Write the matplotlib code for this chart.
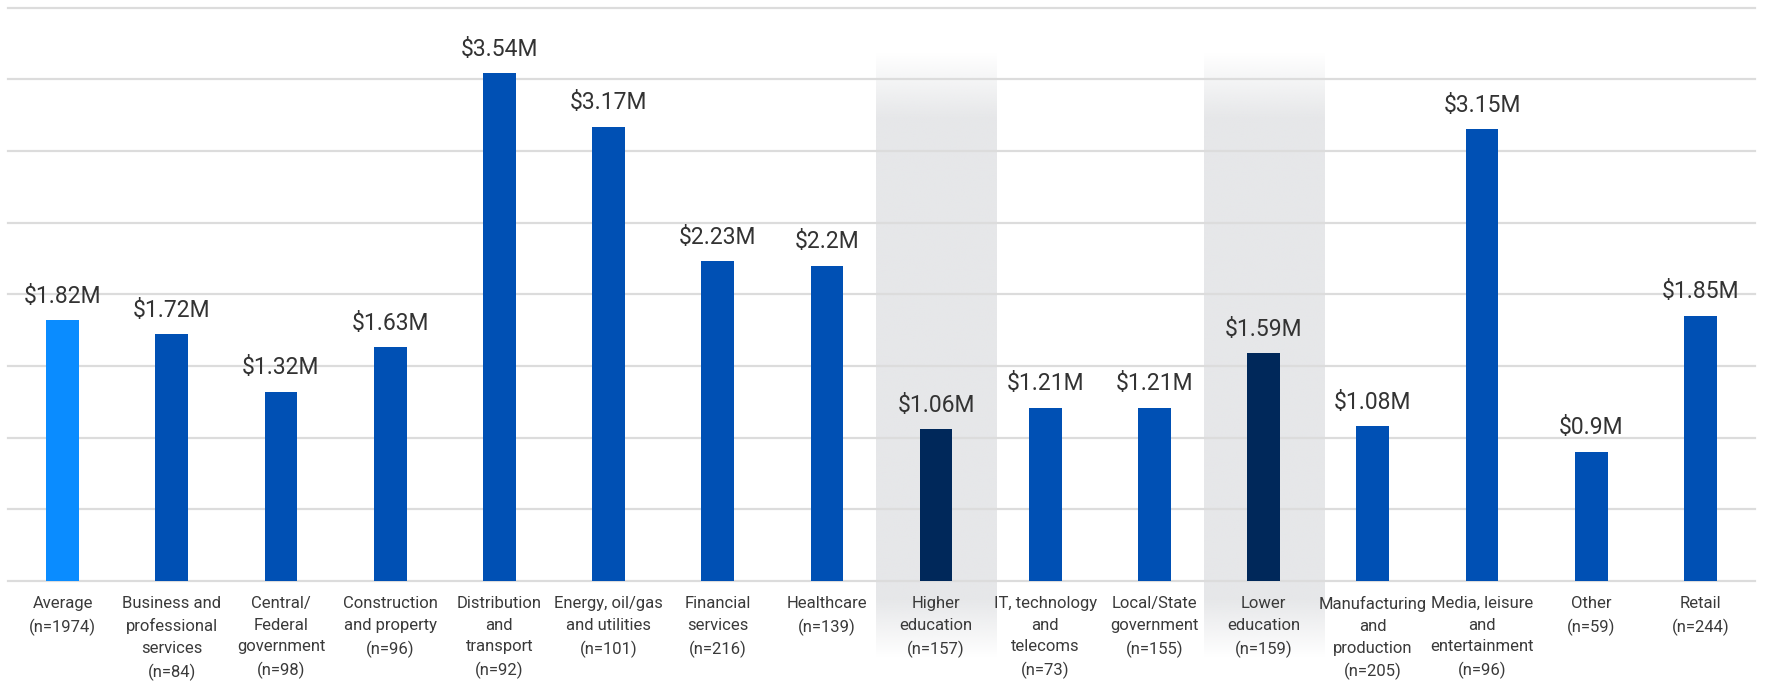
import numpy as np
import matplotlib.pyplot as plt

plt.rcParams['font.family'] = ['Roboto', 'DejaVu Sans']

# data
categories = ["Average", "Business and\nprofessional\nservices", "Central/\nFederal\ngovernment",
              "Construction\nand property", "Distribution\nand\ntransport",
              "Energy, oil/gas\nand utilities", "Financial\nservices", "Healthcare",
              "Higher\neducation", "IT, technology\nand\ntelecoms", "Local/State\ngovernment",
              "Lower\neducation", "Manufacturing\nand\nproduction",
              "Media, leisure\nand\nentertainment", "Other", "Retail"]
sample_n = [1974, 84, 98, 96, 92, 101, 216, 139, 157, 73, 155, 159, 205, 96, 59, 244]
cost_musd = [1.82, 1.72, 1.32, 1.63, 3.54, 3.17, 2.23, 2.2, 1.06, 1.21, 1.21, 1.59, 1.08, 3.15, 0.9, 1.85]
highlighted = ["Higher\neducation", "Lower\neducation"]

light_blue = "#0a8cff"
blue = "#0050b4"
navy = "#00285a"

colors = []
for i, c in enumerate(categories):
    if i == 0:
        colors.append(light_blue)
    elif c in highlighted:
        colors.append(navy)
    else:
        colors.append(blue)

fig = plt.figure(figsize=(17.66, 6.82), dpi=100)
ax = fig.add_axes([8 / 1766, 1 - 581 / 682, 1747 / 1766, (581 - 7.5) / 682])

x = np.arange(len(categories))

# gridlines
for g in np.arange(0, 4.01, 0.5):
    ax.axhline(g, color="#dcdcdc", lw=1.6, zorder=1, clip_on=False)

# grey gradient band behind highlighted columns
y_lo, y_hi = -0.54, 3.68
ys = np.linspace(y_hi, y_lo, 300)
alpha = np.ones_like(ys)
top_fade = ys > 3.22
alpha[top_fade] = (y_hi - ys[top_fade]) / (y_hi - 3.22)
bot_fade = ys < -0.13
alpha[bot_fade] = (ys[bot_fade] - y_lo) / (-0.13 - y_lo)
alpha = np.clip(alpha, 0, 1)
img = np.zeros((len(ys), 1, 4))
img[:, 0, :3] = np.array([230, 231, 233]) / 255
img[:, 0, 3] = alpha
for c in highlighted:
    i = categories.index(c)
    ax.imshow(img, extent=[i - 0.55, i + 0.55, y_lo, y_hi], aspect="auto",
              zorder=0, clip_on=False, interpolation="bilinear")
ax.set_xlim(-0.5, len(categories) - 0.5)
ax.set_ylim(0, 4.0)

ax.bar(x, cost_musd, width=0.3, color=colors, zorder=2)

for xi, v in zip(x, cost_musd):
    ax.annotate("${:g}M".format(v), (xi, v), xytext=(0, 9), textcoords="offset points",
                ha="center", va="bottom", fontsize=16.5, color="#333333")

labels = ["{}\n(n={})".format(c, n) for c, n in zip(categories, sample_n)]
ax.set_xticks(x)
ax.set_xticklabels(labels, fontsize=12, color="#3a3a3a", linespacing=1.55)
ax.tick_params(axis="x", length=0, pad=11)
ax.set_yticks([])
for s in ax.spines.values():
    s.set_visible(False)

plt.savefig("out.png", dpi=100)
